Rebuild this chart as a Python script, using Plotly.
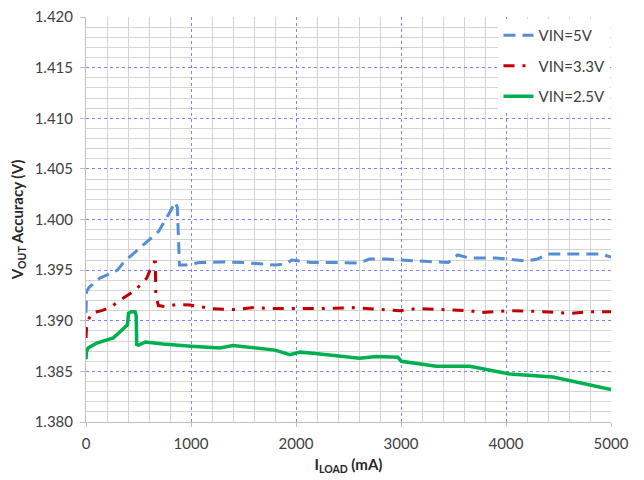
import plotly.graph_objects as go

# ---- data (mA, V) ----
x_5v = [0, 5, 30, 130, 240, 300, 360, 450, 560, 690, 780, 850, 870, 885, 890, 950,
        1080, 1300, 1500, 1800, 1900, 1960, 2050, 2150, 2400, 2600, 2700, 2850, 3000,
        3200, 3450, 3540, 3650, 3900, 4000, 4200, 4300, 4400, 4700, 4900, 5000]
y_5v = [1.3908, 1.3929, 1.3933, 1.3942, 1.3947, 1.3950, 1.3958, 1.3966, 1.3976, 1.3988,
        1.4004, 1.4017, 1.4012, 1.3960, 1.3955, 1.3955, 1.39575, 1.3958, 1.39575, 1.3955,
        1.3956, 1.3960, 1.3959, 1.39575, 1.39575, 1.3957, 1.3961, 1.3961, 1.3960, 1.3959,
        1.39575, 1.3965, 1.3962, 1.3962, 1.3961, 1.3959, 1.3961, 1.3966, 1.3966, 1.3966,
        1.3963]

x_33v = [0, 5, 30, 60, 150, 244, 335, 467, 578, 610, 650, 660, 665, 690, 750, 866, 990,
         1200, 1400, 1600, 1752, 2000, 2228, 2545, 2800, 2990, 3146, 3400, 3654, 3750,
         3900, 4035, 4353, 4500, 4607, 4800, 5000]
y_33v = [1.3883, 1.3893, 1.39025, 1.3908, 1.3910, 1.3914, 1.3921, 1.3930, 1.3942, 1.3950,
         1.3958, 1.3958, 1.3925, 1.3915, 1.3914, 1.3916, 1.39155, 1.3912, 1.3911, 1.3913,
         1.3912, 1.3912, 1.3912, 1.3913, 1.3911, 1.3910, 1.3912, 1.3911, 1.3910, 1.3908,
         1.3909, 1.3910, 1.3909, 1.3908, 1.39073, 1.3909, 1.3909]

x_25v = [0, 5, 20, 102, 260, 335, 378, 395, 405, 433, 467, 478, 483, 500, 567, 733, 1000,
         1276, 1400, 1600, 1800, 1942, 2037, 2162, 2416, 2606, 2765, 2900, 2970, 3003,
         3146, 3337, 3654, 3813, 4035, 4448, 4607, 4924, 5000]
y_25v = [1.3862, 1.3870, 1.3873, 1.3878, 1.3883, 1.3890, 1.3894, 1.3896, 1.39075, 1.3909,
         1.3909, 1.3905, 1.38765, 1.3876, 1.3879, 1.3877, 1.38748, 1.3873, 1.38755, 1.3873,
         1.3871, 1.38665, 1.3869, 1.3868, 1.38648, 1.3863, 1.38648, 1.3864, 1.3864, 1.3860,
         1.3858, 1.3855, 1.3855, 1.38516, 1.38474, 1.38444, 1.38408, 1.38336, 1.3832]

names = ["VIN=5V", "VIN=3.3V", "VIN=2.5V"]

FONT = "Lato"
fig = go.Figure()
fig.add_trace(go.Scatter(x=x_5v, y=y_5v, mode="lines", name=names[0], legendgroup="a",
                         line=dict(color="#558ed5", width=3, dash="12px,7px")))
fig.add_trace(go.Scatter(x=x_33v, y=y_33v, mode="lines", name=names[1], legendgroup="b",
                         line=dict(color="#c00000", width=3, dash="11px,8px,3px,8px")))
fig.add_trace(go.Scatter(x=x_25v, y=y_25v, mode="lines", name=names[2], legendgroup="c",
                         line=dict(color="#00b050", width=3.5)))

major_grid = "#7f7fff"
minor_grid = "#d4d4d4"
fig.update_layout(
    width=636, height=472,
    margin=dict(l=78, r=33, t=9, b=58),
    paper_bgcolor="white", plot_bgcolor="white",
    font=dict(family=FONT, size=15, color="#404040"),
    showlegend=True,
    legend=dict(x=0.999, y=0.995, xanchor="right", yanchor="top",
                bgcolor="white", borderwidth=0, tracegroupgap=8,
                traceorder="grouped",
                font=dict(family=FONT, size=15, color="#404040")),
)
fig.update_xaxes(
    range=[0, 5000], dtick=1000, tick0=0,
    showgrid=True, gridcolor=major_grid, griddash="dot", gridwidth=1,
    minor=dict(dtick=200, showgrid=True, gridcolor=minor_grid, gridwidth=1, griddash="solid"),
    showline=True, linecolor="#bfbfbf", linewidth=1,
    ticks="outside", ticklen=4, tickcolor="#bfbfbf", ticklabelstandoff=4,
    ticklabeloverflow="allow",
    zeroline=False, automargin=False,
    title=dict(text="<b>I<sub>LOAD</sub> (mA)</b>", font=dict(family=FONT, size=15, color="#262626"),
               standoff=8),
)
fig.update_yaxes(
    range=[1.380, 1.420], dtick=0.005, tick0=1.380, tickformat=".3f",
    showgrid=True, gridcolor=major_grid, griddash="dot", gridwidth=1,
    minor=dict(dtick=0.001, showgrid=True, gridcolor=minor_grid, gridwidth=1, griddash="solid"),
    showline=True, linecolor="#bfbfbf", linewidth=1,
    ticks="outside", ticklen=5, tickcolor="#bfbfbf", ticklabelstandoff=4,
    ticklabeloverflow="allow",
    zeroline=False, automargin=False,
    title=dict(text="<b>V<sub>OUT</sub> Accuracy (V)</b>", font=dict(family=FONT, size=15, color="#262626"),
               standoff=7),
)

fig.write_html("out.html")
